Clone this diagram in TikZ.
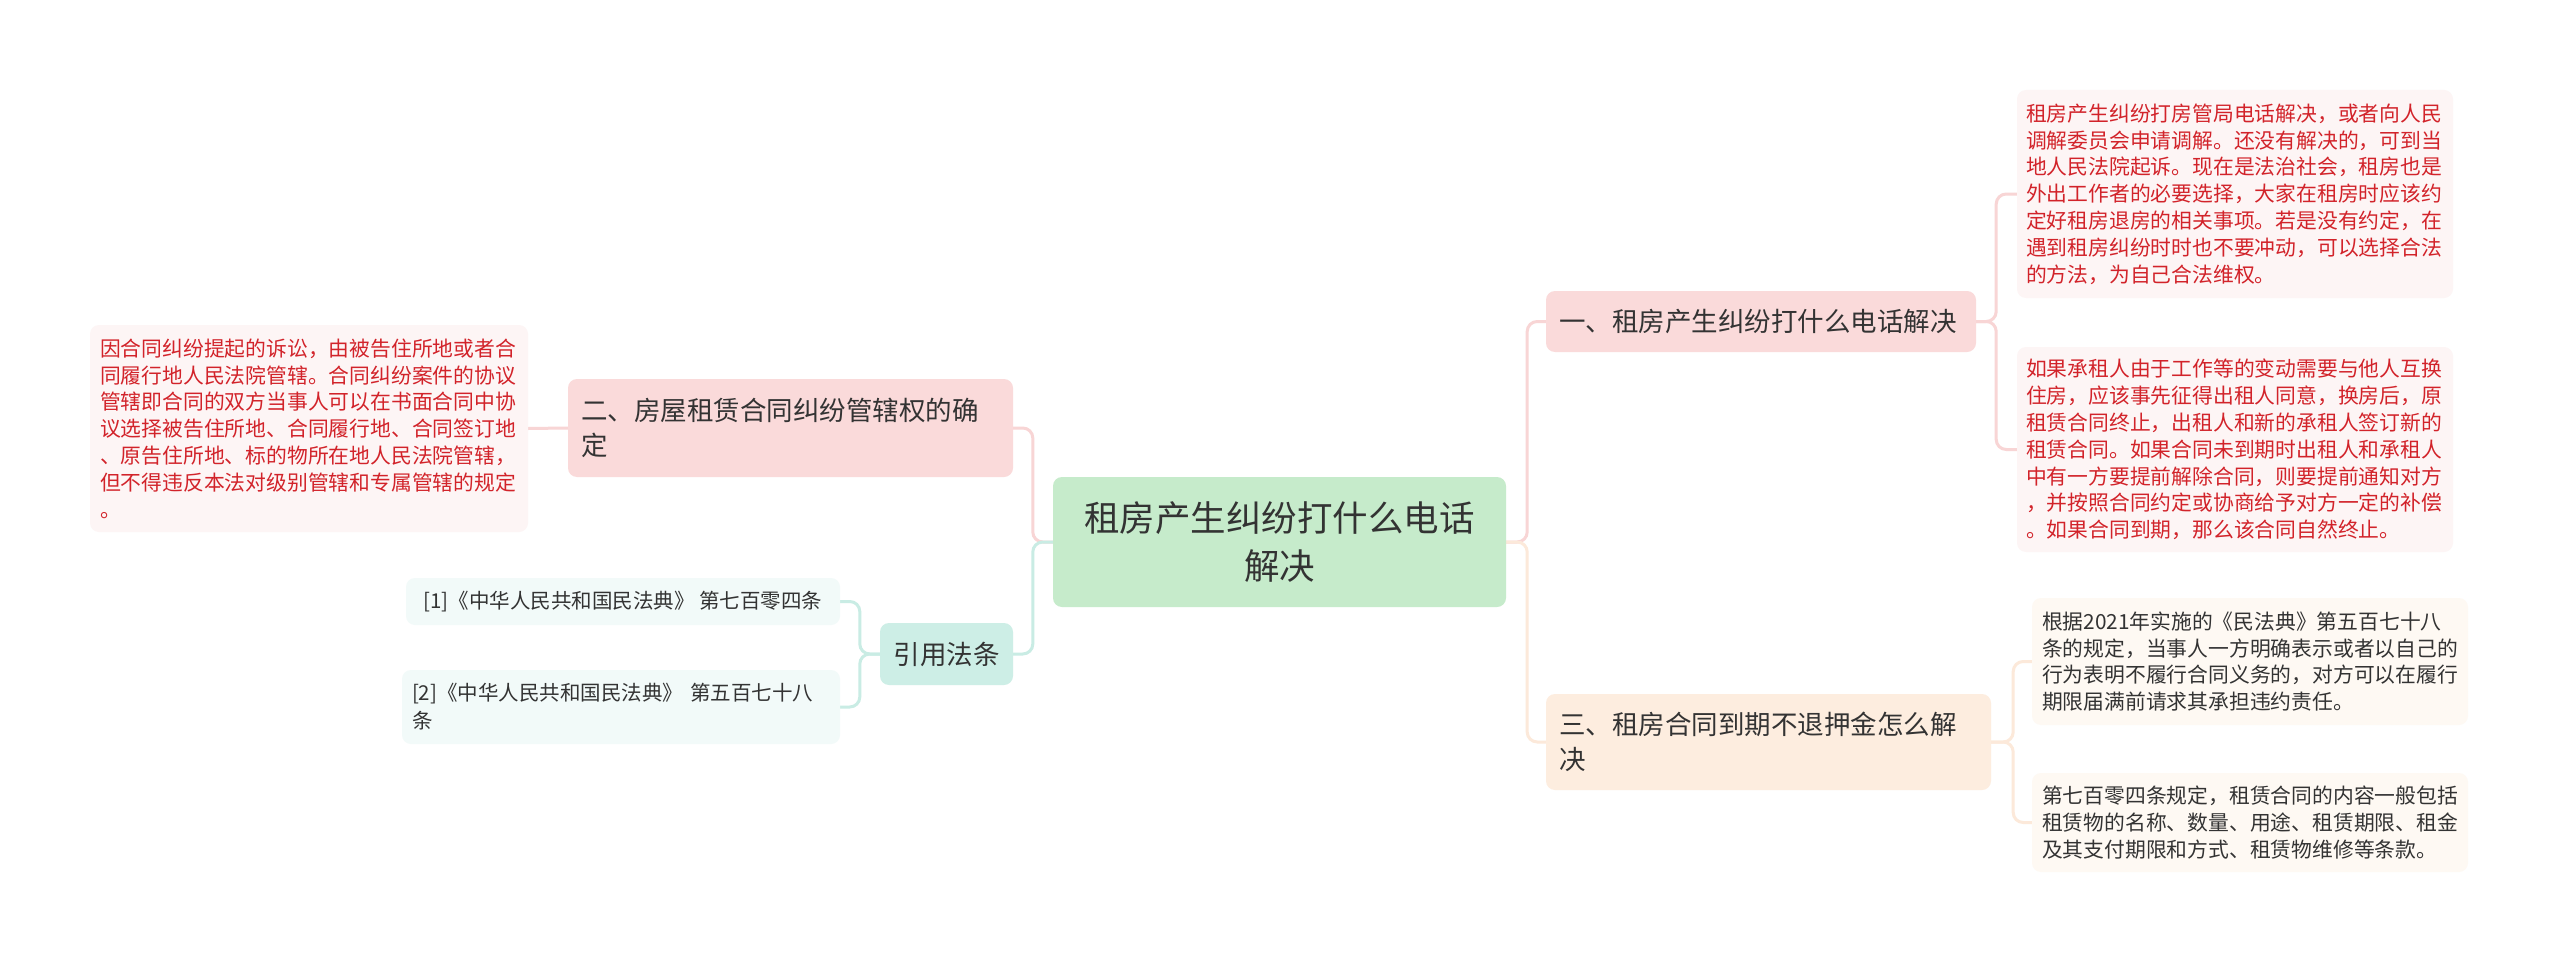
\documentclass[tikz,border=0pt]{standalone}
\usepackage{fontspec}
\setmainfont{Noto Sans CJK SC}
\usetikzlibrary{backgrounds}
\definecolor{txt}{HTML}{333333}
\definecolor{redtxt}{HTML}{D2232A}
\definecolor{rootfill}{HTML}{C6EBCB}
\definecolor{pinkfill}{HTML}{FADADA}
\definecolor{peachfill}{HTML}{FDEDDF}
\definecolor{tealfill}{HTML}{CDEEE6}
\definecolor{redleaf}{HTML}{FDF5F5}
\definecolor{creamleaf}{HTML}{FEF9F3}
\definecolor{tealleaf}{HTML}{F2FAF9}
\definecolor{pinkline}{HTML}{F8D5D5}
\definecolor{peachline}{HTML}{FCE9DA}
\definecolor{tealline}{HTML}{C9ECE4}
\begin{document}
\begin{tikzpicture}[x=1pt,y=-1pt,
  box/.style={rectangle, rounded corners=9pt, inner sep=0pt, align=left, text=txt},
  link/.style={line width=3pt, rounded corners=10pt},
  bigfont/.style={font=\fontsize{35.5}{48}\selectfont},
  midfont/.style={font=\fontsize{26.5}{35}\selectfont},
  smallfont/.style={font=\fontsize{20.8}{26.8}\selectfont},
  citefont/.style={font=\fontsize{20.5}{28}\selectfont},
  redbox/.style={box, smallfont, text=redtxt, fill=redleaf},
  creambox/.style={box, smallfont, fill=creamleaf},
  citebox/.style={box, citefont, fill=tealleaf}
]
\useasboundingbox (0,0) rectangle (2560,963);

\node[box, bigfont, fill=rootfill, minimum width=453pt, minimum height=130pt, text width=430pt, align=center] (root) at (1279.5,542) {租房产生纠纷打什么电话\\解决};

\node[box, midfont, fill=pinkfill, minimum width=430pt, minimum height=61pt, text width=404pt] (n1) at (1761,321.5) {一、租房产生纠纷打什么电话解决};
\node[box, midfont, fill=peachfill, minimum width=445pt, minimum height=96pt, text width=419pt] (n3) at (1768.5,742) {三、租房合同到期不退押金怎么解\\决};
\node[box, midfont, fill=pinkfill, minimum width=445pt, minimum height=98pt, text width=419pt] (n2) at (790.5,428) {二、房屋租赁合同纠纷管辖权的确\\定};
\node[box, midfont, fill=tealfill, minimum width=133pt, minimum height=62pt, align=center] (cite) at (946.5,654) {引用法条};

\node[redbox, minimum width=436pt, minimum height=208pt, text width=418pt] (L1) at (2235,194) {租房产生纠纷打房管局电话解决，或者向人民\\调解委员会申请调解。还没有解决的，可到当\\地人民法院起诉。现在是法治社会，租房也是\\外出工作者的必要选择，大家在租房时应该约\\定好租房退房的相关事项。若是没有约定，在\\遇到租房纠纷时时也不要冲动，可以选择合法\\的方法，为自己合法维权。};
\node[redbox, minimum width=436pt, minimum height=205pt, text width=418pt] (L2) at (2235,449.5) {如果承租人由于工作等的变动需要与他人互换\\住房，应该事先征得出租人同意，换房后，原\\租赁合同终止，出租人和新的承租人签订新的\\租赁合同。如果合同未到期时出租人和承租人\\中有一方要提前解除合同，则要提前通知对方\\，并按照合同约定或协商给予对方一定的补偿\\。如果合同到期，那么该合同自然终止。};
\node[creambox, minimum width=436pt, minimum height=127pt, text width=416pt] (L3) at (2250,661.5) {根据2021年实施的《民法典》第五百七十八\\条的规定，当事人一方明确表示或者以自己的\\行为表明不履行合同义务的，对方可以在履行\\期限届满前请求其承担违约责任。};
\node[creambox, minimum width=436pt, minimum height=99pt, text width=416pt] (L4) at (2250,822.5) {第七百零四条规定，租赁合同的内容一般包括\\租赁物的名称、数量、用途、租赁期限、租金\\及其支付期限和方式、租赁物维修等条款。};
\node[redbox, minimum width=438pt, minimum height=207pt, text width=418pt] (LL) at (309,428.5) {因合同纠纷提起的诉讼，由被告住所地或者合\\同履行地人民法院管辖。合同纠纷案件的协议\\管辖即合同的双方当事人可以在书面合同中协\\议选择被告住所地、合同履行地、合同签订地\\、原告住所地、标的物所在地人民法院管辖，\\但不得违反本法对级别管辖和专属管辖的规定\\。};
\node[citebox, minimum width=434pt, minimum height=47pt, align=center] (C1) at (623,601.5) {[1]《中华人民共和国民法典》 第七百零四条};
\node[citebox, minimum width=438pt, minimum height=74pt, text width=418pt] (C2) at (621,707) {[2]《中华人民共和国民法典》 第五百七十八\\条};

\begin{scope}[on background layer]
\fill[white] (0,0) rectangle (2560,963);
\draw[link, pinkline] (root.east) -- ++(21,0) |- (n1.west);
\draw[link, peachline] (root.east) -- ++(21,0) |- (n3.west);
\draw[link, pinkline] (root.west) -- ++(-20,0) |- (n2.east);
\draw[link, tealline] (root.west) -- ++(-20,0) |- (cite.east);
\draw[link, pinkline] (n1.east) -- ++(20,0) |- (L1.west);
\draw[link, pinkline] (n1.east) -- ++(20,0) |- (L2.west);
\draw[link, peachline] (n3.east) -- ++(22,0) |- (L3.west);
\draw[link, peachline] (n3.east) -- ++(22,0) |- (L4.west);
\draw[link, pinkline] (n2.west) -- (LL.east);
\draw[link, tealline] (cite.west) -- ++(-20,0) |- (C1.east);
\draw[link, tealline] (cite.west) -- ++(-20,0) |- (C2.east);
\end{scope}
\end{tikzpicture}
\end{document}
